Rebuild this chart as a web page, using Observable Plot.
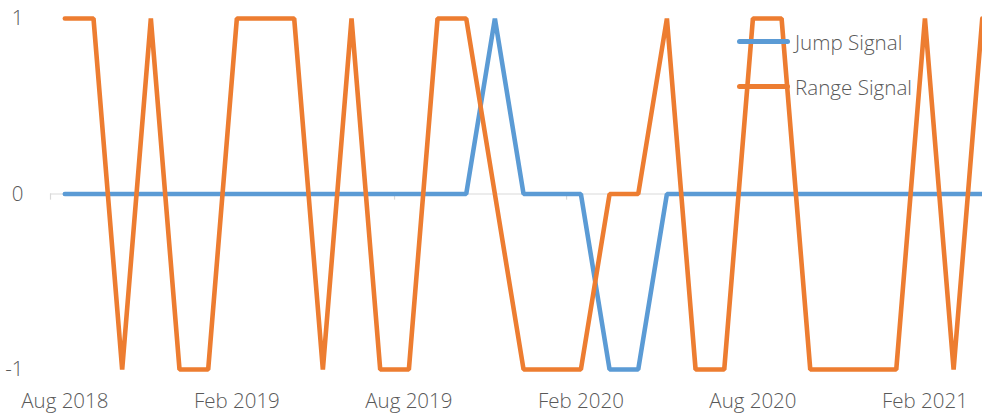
<!DOCTYPE html>
<html>
<head>
<meta charset="utf-8">
<script src="https://cdn.jsdelivr.net/npm/d3@7"></script>
<script src="https://cdn.jsdelivr.net/npm/@observablehq/plot@0.6"></script>
<style>
  html, body { margin: 0; padding: 0; background: #fff; overflow: hidden; }
  #wrap { position: relative; width: 982px; height: 416px; font-family: "Open Sans", sans-serif; }
  .legend { position: absolute; left: 737px; top: 19px; color: #595959; font-size: 20.6px; font-weight: 300; font-family: "Open Sans", sans-serif; }
  .legend .row { display: flex; align-items: center; height: 45px; }
  .legend .sw { width: 53px; height: 5px; border-radius: 3px; margin-right: 5px; }
</style>
</head>
<body>
<div id="wrap"></div>
<script>
const months = ["2018-08","2018-09","2018-10","2018-11","2018-12","2019-01","2019-02","2019-03","2019-04","2019-05","2019-06","2019-07","2019-08","2019-09","2019-10","2019-11","2019-12","2020-01","2020-02","2020-03","2020-04","2020-05","2020-06","2020-07","2020-08","2020-09","2020-10","2020-11","2020-12","2021-01","2021-02","2021-03","2021-04"];
const jumpSignal = [0,0,0,0,0,0,0,0,0,0,0,0,0,0,0,1,0,0,0,-1,-1,0,0,0,0,0,0,0,0,0,0,0,0];
const rangeSignal = [1,1,-1,1,-1,-1,1,1,1,-1,1,-1,-1,1,1,0,-1,-1,-1,0,0,1,-1,-1,1,1,-1,-1,-1,-1,1,-1,1];
const xTickLabels = ["Aug 2018","Feb 2019","Aug 2019","Feb 2020","Aug 2020","Feb 2021"];
const yTicks = [-1, 0, 1];
const seriesNames = ["Jump Signal", "Range Signal"];
const colors = ["#5B9BD5", "#ED7D31"];

const jumpData = months.map((m, i) => ({i, v: jumpSignal[i]}));
const rangeData = months.map((m, i) => ({i, v: rangeSignal[i]}));
const labelIdx = xTickLabels.map((_, k) => k * 6);
const bounds = d3.range(-0.5, months.length, 6);

const chart = Plot.plot({
  width: 982,
  height: 416,
  marginTop: 18,
  marginBottom: 47,
  marginLeft: 50,
  marginRight: 0,
  style: {fontFamily: "Open Sans, sans-serif", fontSize: "20.5px", fontWeight: 300, color: "#595959", background: "#fff"},
  x: {type: "linear", domain: [-0.5, months.length - 0.5], range: [50, 50 + months.length * 28.67]},
  y: {domain: [-1, 1]},
  marks: [
    Plot.ruleY([0], {stroke: "#d9d9d9", strokeWidth: 1.2}),
    Plot.ruleX(bounds, {x: d => d, y1: 0, y2: -0.035, stroke: "#d9d9d9", strokeWidth: 1.2}),
    Plot.axisY({ticks: yTicks, tickSize: 0, tickPadding: 27, tickFormat: d => String(d), fill: "#595959", label: null}),
    Plot.axisX({ticks: labelIdx, tickSize: 0, tickPadding: 24, tickFormat: (d) => xTickLabels[Math.round(d / 6)], fill: "#595959", label: null}),
    Plot.line(jumpData, {x: "i", y: "v", stroke: colors[0], strokeWidth: 4.6, strokeLinecap: "round", strokeLinejoin: "miter"}),
    Plot.line(rangeData, {x: "i", y: "v", stroke: colors[1], strokeWidth: 4.6, strokeLinecap: "round", strokeLinejoin: "miter"})
  ]
});
const wrap = document.getElementById("wrap");
wrap.appendChild(chart);
const legend = document.createElement("div");
legend.className = "legend";
seriesNames.forEach((name, k) => {
  const row = document.createElement("div");
  row.className = "row";
  const sw = document.createElement("div");
  sw.className = "sw";
  sw.style.background = colors[k];
  const t = document.createElement("span");
  t.textContent = name;
  row.appendChild(sw); row.appendChild(t);
  legend.appendChild(row);
});
wrap.appendChild(legend);
</script>
</body>
</html>
